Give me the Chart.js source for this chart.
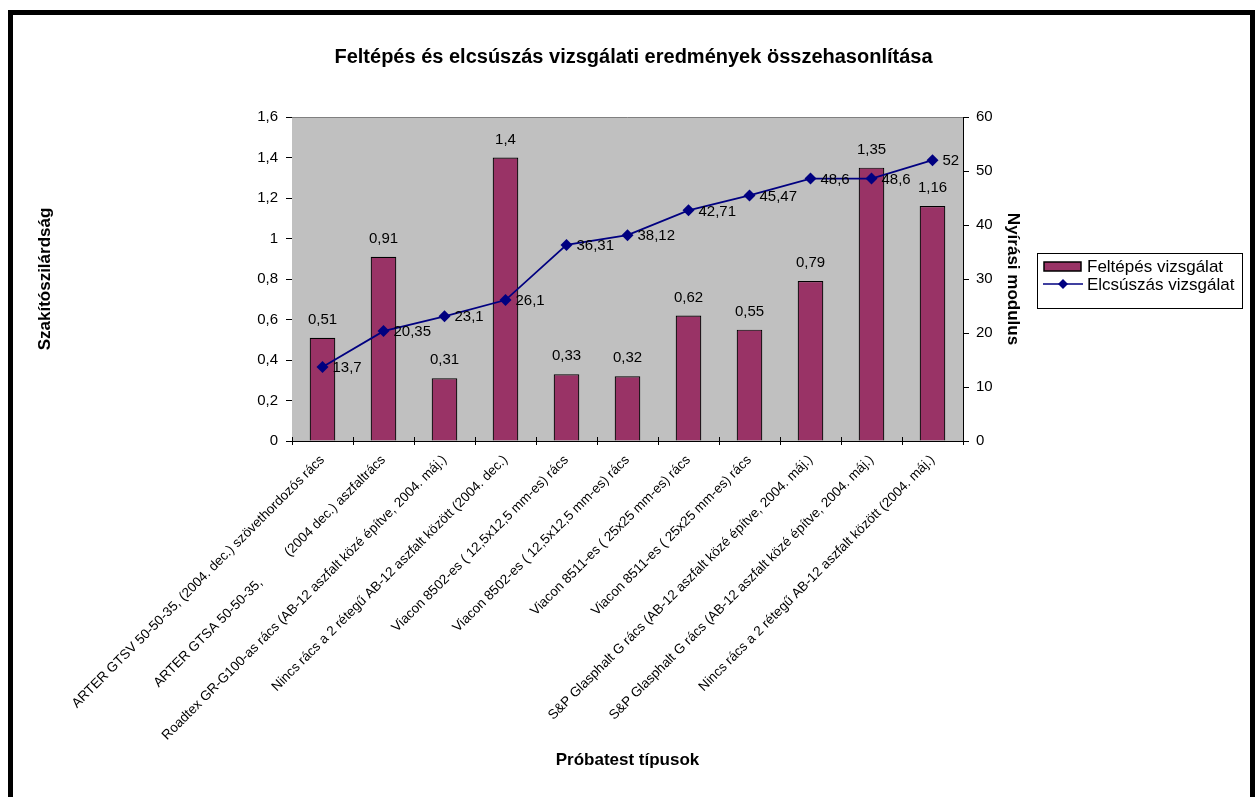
<!DOCTYPE html>
<html lang="hu">
<head>
<meta charset="utf-8">
<title>Feltépés és elcsúszás vizsgálati eredmények összehasonlítása</title>
<script src="https://cdn.jsdelivr.net/npm/chart.js@4/dist/chart.umd.min.js"></script>
<style>
  html, body { margin: 0; padding: 0; background: #fff; }
  #wrap { width: 1256px; height: 797px; position: relative; }
</style>
</head>
<body>
<div id="wrap"><canvas id="chart" width="1256" height="797"></canvas></div>
<script>
// Próbatest típusok (kategóriák)
const categories = [
  'ARTER GTSV 50-50-35, (2004. dec.) szövethordozós rács',
  'ARTER GTSA 50-50-35,\u00a0\u00a0\u00a0\u00a0\u00a0\u00a0\u00a0\u00a0\u00a0 (2004 dec.) aszfaltrács',
  'Roadtex GR-G100-as rács (AB-12 aszfalt közé építve, 2004. máj.)',
  'Nincs rács a 2 rétegű AB-12 aszfalt között (2004. dec.)',
  'Viacon 8502-es ( 12,5x12,5 mm-es) rács',
  'Viacon 8502-es ( 12,5x12,5 mm-es) rács',
  'Viacon 8511-es ( 25x25 mm-es) rács',
  'Viacon 8511-es ( 25x25 mm-es) rács',
  'S&P Glasphalt G rács (AB-12 aszfalt közé építve, 2004. máj.)',
  'S&P Glasphalt G rács (AB-12 aszfalt közé építve, 2004. máj.)',
  'Nincs rács a 2 rétegű AB-12 aszfalt között (2004. máj.)'
];

// Feltépés vizsgálat – szakítószilárdság
const feltepes = [0.51, 0.91, 0.31, 1.4, 0.33, 0.32, 0.62, 0.55, 0.79, 1.35, 1.16];

// Elcsúszás vizsgálat – nyírási modulus
const elcsuszas = [13.7, 20.35, 23.1, 26.1, 36.31, 38.12, 42.71, 45.47, 48.6, 48.6, 52];

// Tengelyek osztásai
const leftTicks = [0, 0.2, 0.4, 0.6, 0.8, 1, 1.2, 1.4, 1.6];
const rightTicks = [0, 10, 20, 30, 40, 50, 60];

const CHART_TITLE = 'Feltépés és elcsúszás vizsgálati eredmények összehasonlítása';
const FONT = "'Liberation Sans', Arial, Helvetica, sans-serif";
const BAR_COLOR = '#993366';
const LINE_COLOR = '#000080';

Chart.defaults.font.family = FONT;
Chart.defaults.color = '#000';

const fmt = v => String(Number(Number(v).toFixed(2))).replace('.', ',');

// Szürke rajzterület, cím és külső keret
const frame = {
  id: 'frame',
  beforeDatasetsDraw(chart) {
    const { ctx, chartArea: a } = chart;
    ctx.save();
    ctx.fillStyle = '#C0C0C0';
    ctx.fillRect(a.left, a.top, a.right - a.left, a.bottom - a.top);
    ctx.strokeStyle = '#808080';
    ctx.lineWidth = 1;
    ctx.beginPath();
    ctx.moveTo(a.left, a.top + 0.5);
    ctx.lineTo(a.right, a.top + 0.5);
    ctx.stroke();
    // kategória-osztások a tengely belső oldalán
    const xs = chart.scales.x;
    ctx.strokeStyle = '#000';
    ctx.beginPath();
    for (let i = 0; i <= categories.length; i++) {
      const px = Math.round(xs.getPixelForValue(i - 0.5)) + 0.5;
      ctx.moveTo(px, a.bottom);
      ctx.lineTo(px, a.bottom - 4);
    }
    ctx.stroke();
    ctx.restore();
  },
  afterDraw(chart) {
    const { ctx, chartArea: a } = chart;
    ctx.save();
    ctx.fillStyle = '#000';
    ctx.font = 'bold 20px ' + FONT;
    ctx.textAlign = 'center';
    ctx.textBaseline = 'middle';
    ctx.fillText(CHART_TITLE, (a.left + a.right) / 2 + 6, 57);
    ctx.strokeStyle = '#000';
    ctx.lineWidth = 5;
    ctx.beginPath();
    ctx.moveTo(10.5, 820);
    ctx.lineTo(10.5, 12.5);
    ctx.lineTo(1252.5, 12.5);
    ctx.lineTo(1252.5, 820);
    ctx.stroke();
    ctx.restore();
  }
};

// Értékcímkék az oszlopok fölött és a pontok mellett
const valueLabels = {
  id: 'valueLabels',
  afterDatasetsDraw(chart) {
    const { ctx } = chart;
    ctx.save();
    ctx.font = '15px ' + FONT;
    ctx.fillStyle = '#000';
    chart.data.datasets.forEach((ds, di) => {
      const meta = chart.getDatasetMeta(di);
      meta.data.forEach((el, i) => {
        const txt = fmt(ds.data[i]);
        if (ds.type === 'bar') {
          ctx.textAlign = 'center';
          ctx.textBaseline = 'middle';
          ctx.fillText(txt, el.x, el.y - 18);
        } else {
          ctx.textAlign = 'left';
          ctx.textBaseline = 'middle';
          ctx.fillText(txt, el.x + 10, el.y + 1);
        }
      });
    });
    ctx.restore();
  }
};

// Jelmagyarázat keretben, a jobb oldalon
const boxLegend = {
  id: 'boxLegend',
  afterDraw(chart) {
    const { ctx } = chart;
    const [bar, line] = chart.data.datasets;
    const x = 1037, y = 253, w = 205, h = 55;
    ctx.save();
    ctx.fillStyle = '#fff';
    ctx.fillRect(x, y, w, h);
    ctx.strokeStyle = '#000';
    ctx.lineWidth = 1;
    ctx.strokeRect(x + 0.5, y + 0.5, w, h);
    // oszlop minta
    ctx.fillStyle = bar.backgroundColor;
    ctx.fillRect(x + 7, y + 9, 37, 9);
    ctx.lineWidth = 1.5;
    ctx.strokeRect(x + 7, y + 9, 37, 9);
    // vonal minta
    ctx.strokeStyle = line.borderColor;
    ctx.lineWidth = 1.5;
    ctx.beginPath();
    ctx.moveTo(x + 6, y + 31);
    ctx.lineTo(x + 46, y + 31);
    ctx.stroke();
    ctx.fillStyle = line.borderColor;
    ctx.beginPath();
    ctx.moveTo(x + 26, y + 26);
    ctx.lineTo(x + 31, y + 31);
    ctx.lineTo(x + 26, y + 36);
    ctx.lineTo(x + 21, y + 31);
    ctx.closePath();
    ctx.fill();
    ctx.fillStyle = '#000';
    ctx.font = '17px ' + FONT;
    ctx.textAlign = 'left';
    ctx.textBaseline = 'middle';
    ctx.fillText(bar.label, x + 50, y + 14);
    ctx.fillText(line.label, x + 50, y + 32);
    ctx.restore();
  }
};

new Chart(document.getElementById('chart'), {
  data: {
    labels: categories,
    datasets: [
      {
        type: 'bar',
        label: 'Feltépés vizsgálat',
        data: feltepes,
        yAxisID: 'y',
        backgroundColor: BAR_COLOR,
        borderColor: '#000',
        borderWidth: 1.2,
        categoryPercentage: 1,
        barPercentage: 0.42,
        order: 1
      },
      {
        type: 'line',
        label: 'Elcsúszás vizsgálat',
        data: elcsuszas,
        yAxisID: 'y2',
        borderColor: LINE_COLOR,
        backgroundColor: LINE_COLOR,
        borderWidth: 1.8,
        pointStyle: 'rectRot',
        pointRadius: 6,
        pointBorderWidth: 0,
        pointBackgroundColor: LINE_COLOR,
        tension: 0,
        order: 0
      }
    ]
  },
  options: {
    responsive: false,
    animation: false,
    events: [],
    layout: { padding: { left: 31, right: 229, top: 117, bottom: 22 } },
    plugins: {
      legend: { display: false },
      tooltip: { enabled: false },
      title: { display: false }
    },
    scales: {
      x: {
        offset: true,
        grid: { display: true, drawOnChartArea: false, offset: true, tickLength: 4, color: '#000' },
        border: { display: true, color: '#000', width: 1 },
        ticks: {
          autoSkip: false,
          minRotation: 45,
          maxRotation: 45,
          padding: 7,
          font: { size: 13.5, family: FONT },
          color: '#000'
        },
        title: {
          display: true,
          text: 'Próbatest típusok',
          font: { size: 17, weight: 'bold', family: FONT },
          color: '#000',
          padding: { top: 4, bottom: 4 }
        },
        afterFit(scale) { scale.height = 334; }
      },
      y: {
        position: 'left',
        min: leftTicks[0],
        max: leftTicks[leftTicks.length - 1],
        afterBuildTicks(scale) { scale.ticks = leftTicks.map(v => ({ value: v })); },
        grid: { display: true, drawOnChartArea: false, tickLength: 6, color: '#000' },
        border: { display: true, color: '#000', width: 1 },
        ticks: {
          padding: 8,
          font: { size: 15, family: FONT },
          color: '#000',
          callback: v => fmt(v)
        },
        title: {
          display: true,
          text: 'Szakítószilárdság',
          font: { size: 17, weight: 'bold', family: FONT },
          color: '#000',
          padding: { top: 4, bottom: 4 }
        },
        afterFit(scale) { scale.width = 261; }
      },
      y2: {
        position: 'right',
        min: rightTicks[0],
        max: rightTicks[rightTicks.length - 1],
        afterBuildTicks(scale) { scale.ticks = rightTicks.map(v => ({ value: v })); },
        grid: { display: true, drawOnChartArea: false, tickLength: 6, color: '#000' },
        border: { display: true, color: '#000', width: 1 },
        ticks: {
          padding: 7,
          font: { size: 15, family: FONT },
          color: '#000',
          callback: v => fmt(v)
        },
        title: {
          display: true,
          text: 'Nyírási modulus',
          font: { size: 17, weight: 'bold', family: FONT },
          color: '#000',
          padding: { top: 4, bottom: 4 }
        },
        afterFit(scale) { scale.width = 64; }
      }
    }
  },
  plugins: [frame, valueLabels, boxLegend]
});
</script>
</body>
</html>
